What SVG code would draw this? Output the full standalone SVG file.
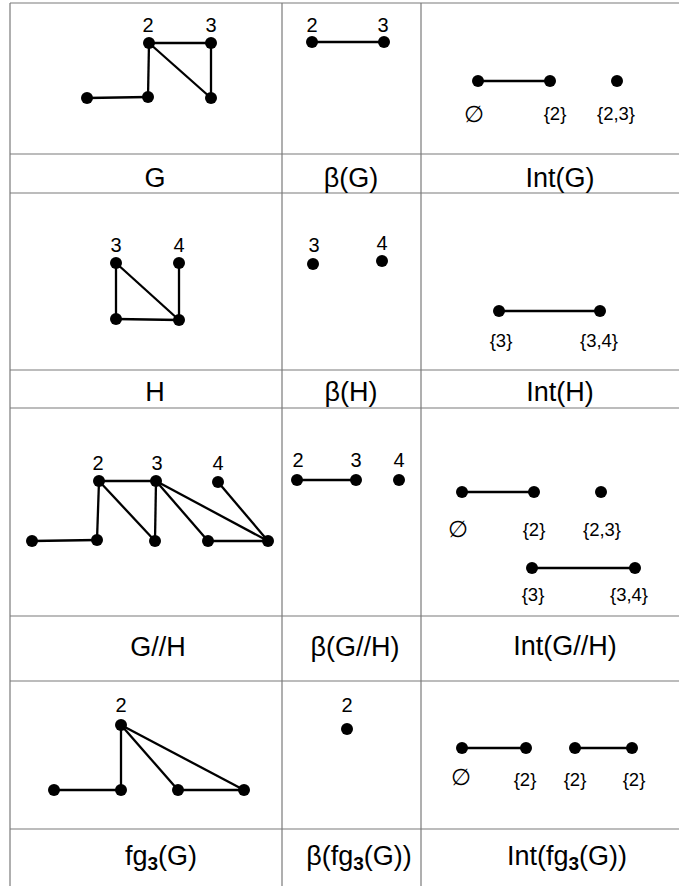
<svg xmlns="http://www.w3.org/2000/svg" width="679" height="886" viewBox="0 0 679 886">
<style>
.grid{stroke:#7a7a7a;stroke-width:1.2;fill:none}
.e{stroke:#000;stroke-width:2.3;fill:none}
.n{fill:#000}
.hd{font-family:"Liberation Sans",Arial,sans-serif;font-size:27px;fill:#000;text-anchor:middle}
.lb{font-family:"Liberation Sans",Arial,sans-serif;font-size:20px;fill:#000;text-anchor:middle}
.st{font-family:"Liberation Sans",Arial,sans-serif;font-size:18.5px;fill:#000;text-anchor:middle}
.es{font-family:"DejaVu Sans",sans-serif;font-size:23px;fill:#000;text-anchor:middle;font-style:italic}
.sub{font-size:19px;font-weight:bold}
</style>
<rect width="679" height="886" fill="#fff"/>
<g id="grid" class="grid">
<line x1="10" y1="3" x2="679" y2="3"/>
<line x1="10" y1="3" x2="10" y2="886"/>
<line x1="282" y1="3" x2="282" y2="886"/>
<line x1="421" y1="3" x2="421" y2="886"/>
<line x1="10" y1="154" x2="679" y2="154"/>
<line x1="10" y1="193" x2="679" y2="193"/>
<line x1="10" y1="370" x2="679" y2="370"/>
<line x1="10" y1="408" x2="679" y2="408"/>
<line x1="10" y1="616" x2="679" y2="616"/>
<line x1="10" y1="681" x2="679" y2="681"/>
<line x1="10" y1="829" x2="679" y2="829"/>
</g>
<g id="connectors" class="e">
<line x1="87" y1="98" x2="148" y2="97"/>
<line x1="148" y1="97" x2="149" y2="43"/>
<line x1="149" y1="43" x2="211" y2="43"/>
<line x1="149" y1="43" x2="211" y2="98"/>
<line x1="211" y1="43" x2="211" y2="98"/>
<line x1="312" y1="42" x2="384" y2="42"/>
<line x1="478" y1="81" x2="550" y2="81"/>
<line x1="116" y1="263" x2="116" y2="319"/>
<line x1="116" y1="263" x2="179" y2="320"/>
<line x1="116" y1="319" x2="179" y2="320"/>
<line x1="179" y1="263" x2="179" y2="320"/>
<line x1="499" y1="311" x2="600" y2="311"/>
<line x1="32" y1="541" x2="97" y2="540"/>
<line x1="99" y1="481" x2="97" y2="540"/>
<line x1="99" y1="481" x2="156" y2="481"/>
<line x1="99" y1="481" x2="155" y2="541"/>
<line x1="156" y1="481" x2="155" y2="541"/>
<line x1="156" y1="481" x2="208" y2="541"/>
<line x1="156" y1="481" x2="268" y2="541"/>
<line x1="218" y1="482" x2="268" y2="541"/>
<line x1="208" y1="541" x2="268" y2="541"/>
<line x1="297" y1="480" x2="356" y2="480"/>
<line x1="462" y1="492" x2="534" y2="492"/>
<line x1="532" y1="568" x2="635" y2="568"/>
<line x1="54" y1="790" x2="121" y2="790"/>
<line x1="121" y1="725" x2="121" y2="790"/>
<line x1="121" y1="725" x2="178" y2="790"/>
<line x1="121" y1="725" x2="244" y2="790"/>
<line x1="178" y1="790" x2="244" y2="790"/>
<line x1="462" y1="748" x2="526" y2="748"/>
<line x1="575" y1="748" x2="632" y2="748"/>
</g>
<g id="G-a"><circle class="n" cx="87" cy="98" r="6"/></g>
<g id="G-b"><circle class="n" cx="148" cy="97" r="6"/></g>
<g id="G-2"><circle class="n" cx="149" cy="43" r="6"/><text class="lb" x="148" y="32">2</text></g>
<g id="G-3"><circle class="n" cx="211" cy="43" r="6"/><text class="lb" x="211" y="32">3</text></g>
<g id="G-e"><circle class="n" cx="211" cy="98" r="6"/></g>
<g id="bG-2"><circle class="n" cx="312" cy="42" r="6"/><text class="lb" x="312" y="32">2</text></g>
<g id="bG-3"><circle class="n" cx="384" cy="42" r="6"/><text class="lb" x="383" y="32">3</text></g>
<g id="IG-empty"><circle class="n" cx="478" cy="81" r="6"/><text class="es" x="474" y="122">∅</text></g>
<g id="IG-2"><circle class="n" cx="550" cy="81" r="6"/><text class="st" x="555" y="120">{2}</text></g>
<g id="IG-23"><circle class="n" cx="617" cy="81" r="6"/><text class="st" x="616" y="120">{2,3}</text></g>
<g id="H-3"><circle class="n" cx="116" cy="263" r="6"/><text class="lb" x="116" y="252">3</text></g>
<g id="H-4"><circle class="n" cx="179" cy="263" r="6"/><text class="lb" x="179" y="252">4</text></g>
<g id="H-c"><circle class="n" cx="116" cy="319" r="6"/></g>
<g id="H-d"><circle class="n" cx="179" cy="320" r="6"/></g>
<g id="bH-3"><circle class="n" cx="313" cy="264" r="6"/><text class="lb" x="314" y="252">3</text></g>
<g id="bH-4"><circle class="n" cx="382" cy="261" r="6"/><text class="lb" x="382" y="250">4</text></g>
<g id="IH-3"><circle class="n" cx="499" cy="311" r="6"/><text class="st" x="501" y="347">{3}</text></g>
<g id="IH-34"><circle class="n" cx="600" cy="311" r="6"/><text class="st" x="599" y="347">{3,4}</text></g>
<g id="GH-a"><circle class="n" cx="32" cy="541" r="6"/></g>
<g id="GH-b"><circle class="n" cx="97" cy="540" r="6"/></g>
<g id="GH-2"><circle class="n" cx="99" cy="481" r="6"/><text class="lb" x="98" y="470">2</text></g>
<g id="GH-3"><circle class="n" cx="156" cy="481" r="6"/><text class="lb" x="157" y="470">3</text></g>
<g id="GH-4"><circle class="n" cx="218" cy="482" r="6"/><text class="lb" x="218" y="470">4</text></g>
<g id="GH-c"><circle class="n" cx="155" cy="541" r="6"/></g>
<g id="GH-d"><circle class="n" cx="208" cy="541" r="6"/></g>
<g id="GH-e"><circle class="n" cx="268" cy="541" r="6"/></g>
<g id="bGH-2"><circle class="n" cx="297" cy="480" r="6"/><text class="lb" x="298" y="467">2</text></g>
<g id="bGH-3"><circle class="n" cx="356" cy="480" r="6"/><text class="lb" x="356" y="467">3</text></g>
<g id="bGH-4"><circle class="n" cx="399" cy="480" r="6"/><text class="lb" x="399" y="467">4</text></g>
<g id="IGH-empty"><circle class="n" cx="462" cy="492" r="6"/><text class="es" x="458" y="537">∅</text></g>
<g id="IGH-2"><circle class="n" cx="534" cy="492" r="6"/><text class="st" x="534" y="536">{2}</text></g>
<g id="IGH-23"><circle class="n" cx="601" cy="492" r="6"/><text class="st" x="602" y="536">{2,3}</text></g>
<g id="IGH-3"><circle class="n" cx="532" cy="568" r="6"/><text class="st" x="533" y="601">{3}</text></g>
<g id="IGH-34"><circle class="n" cx="635" cy="568" r="6"/><text class="st" x="629" y="601">{3,4}</text></g>
<g id="F-a"><circle class="n" cx="54" cy="790" r="6"/></g>
<g id="F-b"><circle class="n" cx="121" cy="790" r="6"/></g>
<g id="F-2"><circle class="n" cx="121" cy="725" r="6"/><text class="lb" x="121" y="712">2</text></g>
<g id="F-c"><circle class="n" cx="178" cy="790" r="6"/></g>
<g id="F-d"><circle class="n" cx="244" cy="790" r="6"/></g>
<g id="bF-2"><circle class="n" cx="347" cy="729" r="6"/><text class="lb" x="347" y="712">2</text></g>
<g id="IF-empty"><circle class="n" cx="462" cy="748" r="6"/><text class="es" x="461" y="785">∅</text></g>
<g id="IF-2a"><circle class="n" cx="526" cy="748" r="6"/><text class="st" x="525" y="786">{2}</text></g>
<g id="IF-2b"><circle class="n" cx="575" cy="748" r="6"/><text class="st" x="575" y="786">{2}</text></g>
<g id="IF-2c"><circle class="n" cx="632" cy="748" r="6"/><text class="st" x="634" y="786">{2}</text></g>
<g id="headers">
<text class="hd" x="155" y="187">G</text>
<text class="hd" x="351" y="187">β(G)</text>
<text class="hd" x="560" y="187">Int(G)</text>
<text class="hd" x="155" y="401">H</text>
<text class="hd" x="351" y="401">β(H)</text>
<text class="hd" x="560" y="401">Int(H)</text>
<text class="hd" x="158" y="656">G//H</text>
<text class="hd" x="355" y="656">β(G//H)</text>
<text class="hd" x="565" y="655">Int(G//H)</text>
<text class="hd" x="161" y="865">fg<tspan class="sub" dy="5">3</tspan><tspan dy="-5">(G)</tspan></text>
<text class="hd" x="359" y="865">β(fg<tspan class="sub" dy="5">3</tspan><tspan dy="-5">(G))</tspan></text>
<text class="hd" x="567" y="865">Int(fg<tspan class="sub" dy="5">3</tspan><tspan dy="-5">(G))</tspan></text>
</g>
</svg>
